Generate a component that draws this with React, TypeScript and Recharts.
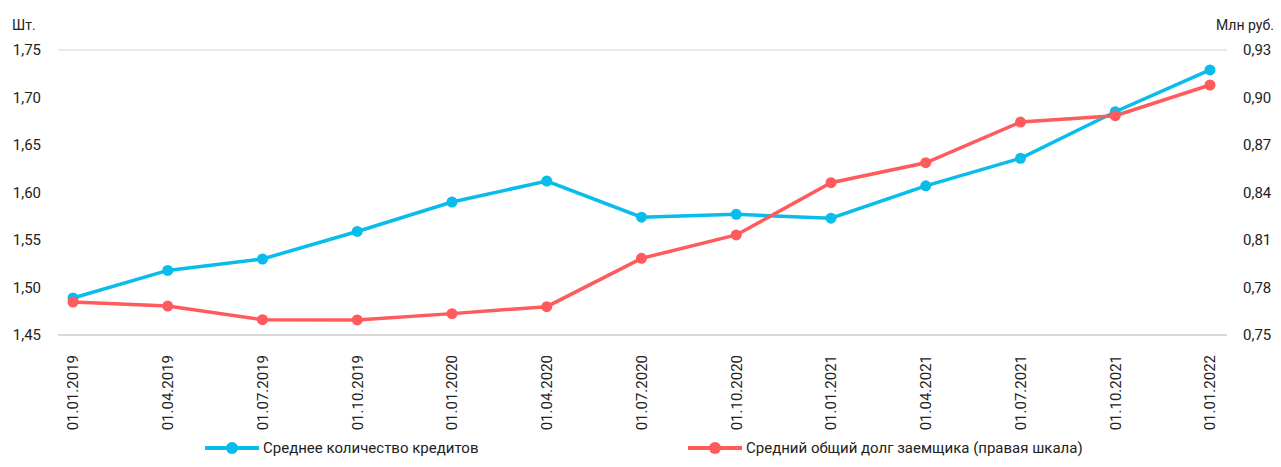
import React from 'react';
import { LineChart, Line, XAxis, YAxis, CartesianGrid, Legend } from 'recharts';

const DATES = [
  '01.01.2019', '01.04.2019', '01.07.2019', '01.10.2019',
  '01.01.2020', '01.04.2020', '01.07.2020', '01.10.2020',
  '01.01.2021', '01.04.2021', '01.07.2021', '01.10.2021', '01.01.2022',
];

// Среднее количество кредитов, шт. (левая шкала)
const LOANS = [1.489, 1.518, 1.530, 1.559, 1.590, 1.612, 1.574, 1.577, 1.573, 1.607, 1.636, 1.685, 1.729];

// Средний общий долг заемщика, млн руб. (правая шкала)
const DEBT = [0.7708, 0.7683, 0.7597, 0.7595, 0.7635, 0.7679, 0.7984, 0.8132, 0.8462, 0.8588, 0.8845, 0.8885, 0.9079];

const LEFT_TICKS = [1.45, 1.5, 1.55, 1.6, 1.65, 1.7, 1.75];
const RIGHT_TICKS = [0.75, 0.78, 0.81, 0.84, 0.87, 0.9, 0.93];

const BLUE = '#08BCEB';
const RED = '#FF5A5C';
const FONT = 'Roboto, "Liberation Sans", sans-serif';

const data = DATES.map((d, i) => ({ date: d, loans: LOANS[i], debt: DEBT[i] }));

const fmt = (v: number) => v.toFixed(2).replace('.', ',');

const DateTick = ({ x, y, payload }: any) => (
  <text
    x={x}
    y={y + 12}
    transform={`rotate(-90, ${x}, ${y + 12})`}
    textAnchor="end"
    dy="0.35em"
    fontSize={15}
    fill="#222"
    fontFamily={FONT}
  >
    {payload.value}
  </text>
);

const LegendBox = () => {
  const items = [
    { label: 'Среднее количество кредитов', color: BLUE, left: 205 },
    { label: 'Средний общий долг заемщика (правая шкала)', color: RED, left: 688 },
  ];
  return (
    <div style={{ position: 'relative', height: 37, width: 1281 }}>
      {items.map((it) => (
        <div
          key={it.label}
          style={{ position: 'absolute', left: it.left, top: 9, display: 'flex', alignItems: 'center' }}
        >
          <svg width={54} height={14}>
            <line x1={0} y1={7} x2={54} y2={7} stroke={it.color} strokeWidth={4} />
            <circle cx={27} cy={7} r={6} fill={it.color} />
          </svg>
          <span style={{ fontSize: 15, color: '#222', marginLeft: 4, fontFamily: FONT }}>{it.label}</span>
        </div>
      ))}
    </div>
  );
};

export default function App() {
  return (
    <div style={{ position: 'absolute', left: 0, top: 0, width: 1281, height: 467, background: '#fff', fontFamily: FONT }}>
      <div style={{ position: 'absolute', left: 12, top: 17, fontSize: 14, color: '#222' }}>Шт.</div>
      <div style={{ position: 'absolute', left: 1216, top: 17, fontSize: 14, color: '#222' }}>Млн руб.</div>
      <LineChart width={1281} height={467} data={data} margin={{ top: 50, right: 0, bottom: 0, left: 0 }}>
        <CartesianGrid vertical={false} stroke="#d4d4d4" strokeWidth={1.2} />
        <XAxis
          dataKey="date"
          height={95}
          interval={0}
          tick={<DateTick />}
          tickLine={false}
          axisLine={{ stroke: '#c8c8c8' }}
          padding={{ left: 15, right: 17 }}
        />
        <YAxis
          yAxisId="left"
          width={58}
          domain={[1.45, 1.75]}
          ticks={LEFT_TICKS}
          tickFormatter={fmt}
          axisLine={false}
          tickLine={false}
          tickSize={0}
          tickMargin={17}
          tick={{ fontSize: 15, fill: '#222', fontFamily: FONT }}
        />
        <YAxis
          yAxisId="right"
          orientation="right"
          width={54}
          domain={[0.75, 0.93]}
          ticks={RIGHT_TICKS}
          tickFormatter={fmt}
          axisLine={false}
          tickLine={false}
          tickSize={0}
          tickMargin={16}
          tick={{ fontSize: 15, fill: '#222', fontFamily: FONT, textAnchor: 'start' }}
        />
        <Legend verticalAlign="bottom" content={<LegendBox />} wrapperStyle={{ left: 0, bottom: 0 }} />
        <Line
          yAxisId="left"
          dataKey="loans"
          name="Среднее количество кредитов"
          stroke={BLUE}
          strokeWidth={3.5}
          dot={{ r: 5.5, fill: BLUE, stroke: BLUE, strokeWidth: 0 }}
          isAnimationActive={false}
        />
        <Line
          yAxisId="right"
          dataKey="debt"
          name="Средний общий долг заемщика (правая шкала)"
          stroke={RED}
          strokeWidth={3.5}
          dot={{ r: 5.5, fill: RED, stroke: RED, strokeWidth: 0 }}
          isAnimationActive={false}
        />
      </LineChart>
    </div>
  );
}
